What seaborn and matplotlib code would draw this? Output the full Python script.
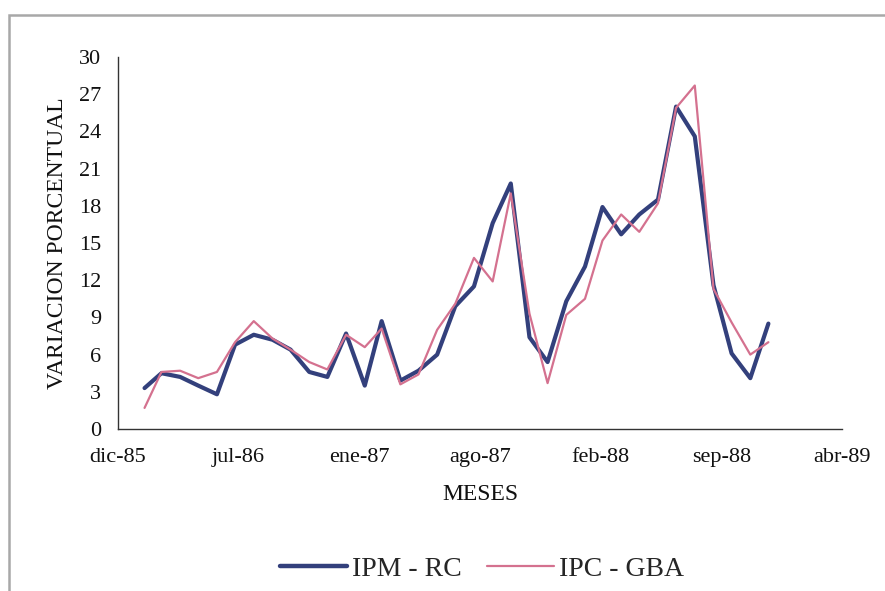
import numpy as np
import pandas as pd
import matplotlib
matplotlib.use("Agg")
import matplotlib.pyplot as plt
from matplotlib.lines import Line2D
from matplotlib.patches import Rectangle
import seaborn as sns

# Monthly percentage variation, Feb-1986 .. Dec-1988
months = pd.date_range("1986-02-01", "1988-12-01", freq="MS")
ipm_rc = [3.3, 4.5, 4.2, 3.5, 2.8, 6.8, 7.6, 7.2, 6.4, 4.6,
          4.2, 7.7, 3.5, 8.7, 3.9, 4.7, 6.0, 9.9, 11.5, 16.6,
          19.8, 7.4, 5.4, 10.3, 13.1, 17.9, 15.7, 17.3, 18.5, 26.0,
          23.6, 11.6, 6.1, 4.1, 8.5]
ipc_gba = [1.7, 4.6, 4.7, 4.1, 4.6, 7.0, 8.7, 7.3, 6.4, 5.4,
           4.8, 7.6, 6.6, 8.1, 3.6, 4.4, 8.0, 10.1, 13.8, 11.9,
           19.0, 9.3, 3.7, 9.2, 10.5, 15.2, 17.3, 15.9, 18.2, 25.9,
           27.7, 11.3, 8.6, 6.0, 7.0]
series_names = ["IPM - RC", "IPC - GBA"]
tick_labels = ["dic-85", "jul-86", "ene-87", "ago-87", "feb-88", "sep-88", "abr-89"]
y_ticks = list(range(0, 31, 3))

sns.set_theme(style="white")
plt.rcParams["font.family"] = ["Liberation Serif", "DejaVu Serif"]

df = pd.DataFrame({"fecha": months, series_names[0]: ipm_rc, series_names[1]: ipc_gba})

fig = plt.figure(figsize=(8.85, 5.91), dpi=100)
fig.patch.set_facecolor("white")
ax = fig.add_axes([118 / 885, 1 - 429 / 591, (842 - 118) / 885, (429 - 57) / 591])

blue = "#33407c"
pink = "#d4718f"
sns.lineplot(data=df, x="fecha", y=series_names[0], ax=ax, color=blue, lw=3.0, legend=False)
sns.lineplot(data=df, x="fecha", y=series_names[1], ax=ax, color=pink, lw=1.6, legend=False)

# date axis: 200-day major unit starting mid December 1985
start = pd.Timestamp("1985-12-19")
tick_dates = [start + pd.Timedelta(days=200 * i) for i in range(len(tick_labels))]
ax.set_xlim(tick_dates[0], tick_dates[-1])
ax.set_xticks(tick_dates)
ax.set_xticklabels(tick_labels)
ax.set_ylim(0, 30)
ax.set_yticks(y_ticks)
ax.set_yticklabels([str(v) for v in y_ticks])

for s in ["top", "right"]:
    ax.spines[s].set_visible(False)
for s in ["left", "bottom"]:
    ax.spines[s].set_color("#333333")
    ax.spines[s].set_linewidth(1.0)
ax.tick_params(axis="both", direction="out", length=5, width=1, color="#333333",
               labelsize=16, labelcolor="#111111")
ax.tick_params(axis="x", pad=9)
ax.tick_params(axis="y", pad=7)
ax.grid(False)
ax.set_facecolor("white")

ax.set_xlabel("MESES", fontsize=17, color="#111111", labelpad=12)
ax.set_ylabel("VARIACION PORCENTUAL", fontsize=17, color="#111111", labelpad=8)

handles = [Line2D([], [], color=blue, lw=3.2), Line2D([], [], color=pink, lw=1.6)]
fig.legend(handles, series_names, loc="center", bbox_to_anchor=(482 / 885, 1 - 569 / 591),
           ncol=2, frameon=False, fontsize=20, handlelength=2.4, handletextpad=0.2,
           columnspacing=0.9)

# chart area border (runs off the right and bottom edges)
fig.add_artist(Rectangle((9 / 885, -0.05), 1.05, 1.05 - 15 / 591,
                         transform=fig.transFigure, fill=False, edgecolor="#a8a8a8", lw=1.8))

fig.savefig("out.png", dpi=100, facecolor="white")
